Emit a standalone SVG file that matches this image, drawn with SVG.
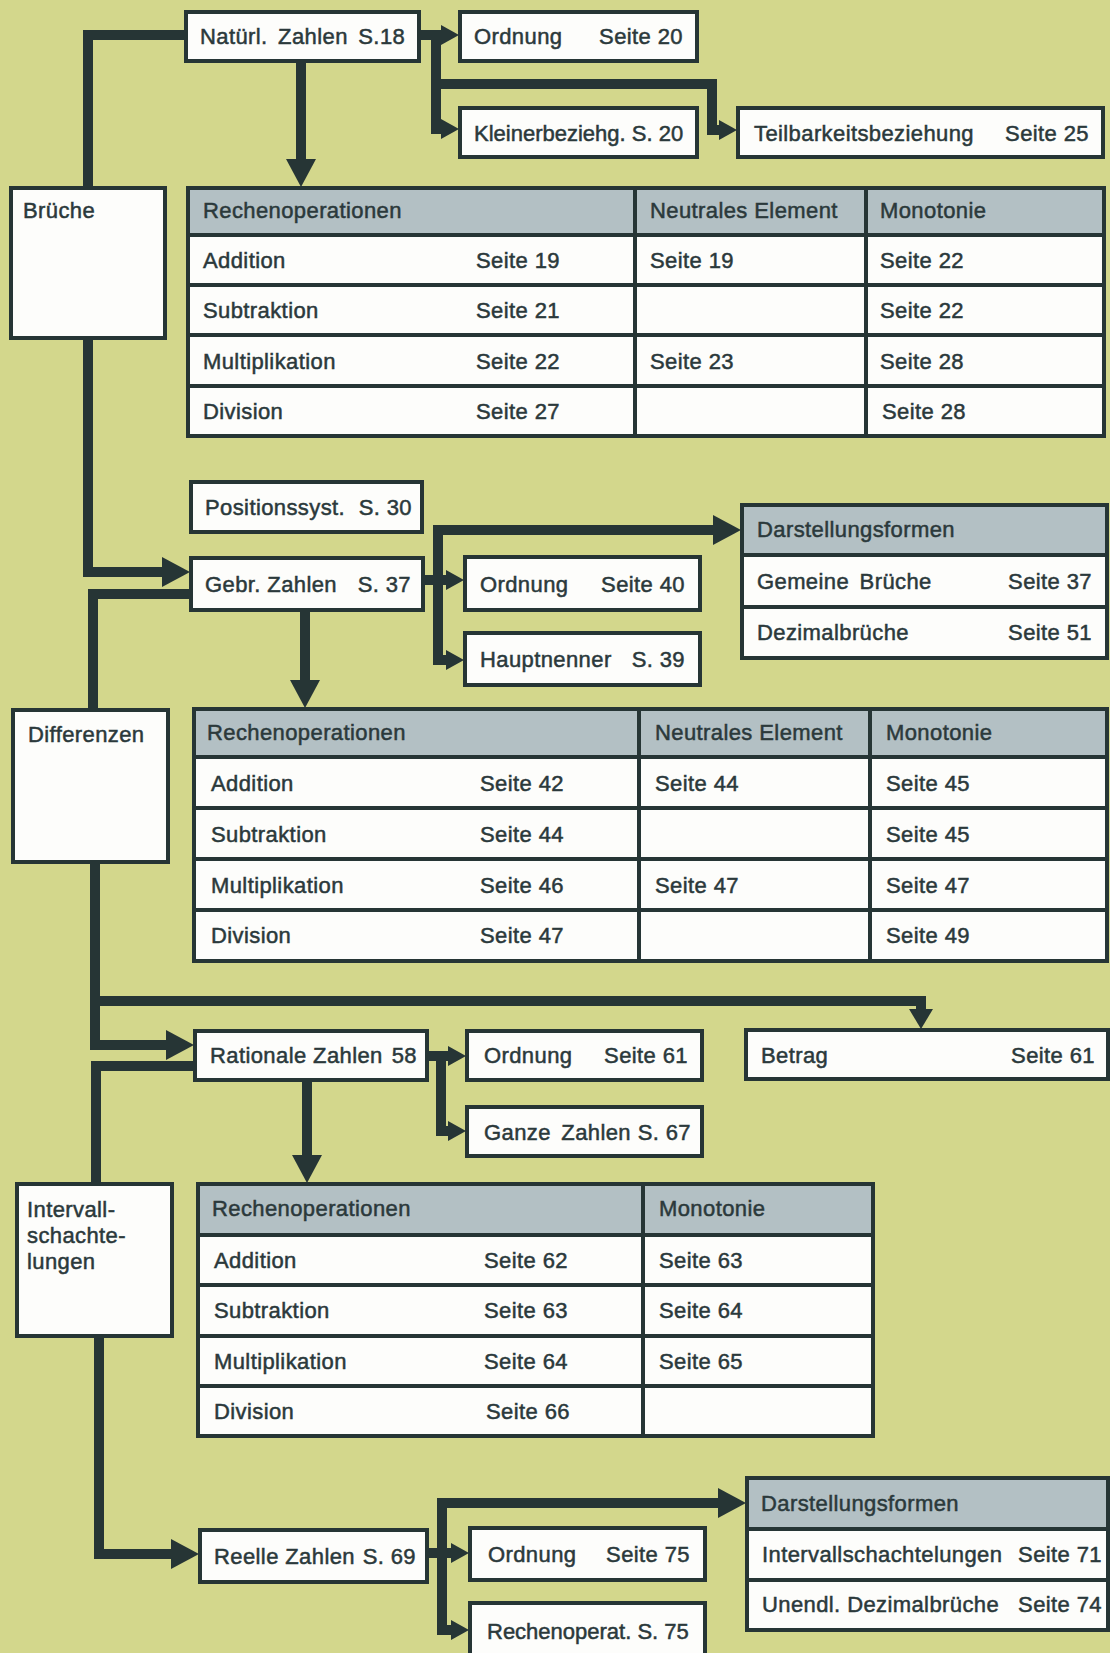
<svg xmlns="http://www.w3.org/2000/svg" width="1110" height="1653" viewBox="0 0 1110 1653">
<defs>
<style>
.bg{fill:#d3d78c}
.box{fill:#fdfdfb;stroke:#263535;stroke-width:4}
.frame{fill:none;stroke:#263535;stroke-width:4}
.hdr{fill:#b3c0c4}
.ln{stroke:#263535;stroke-width:4}
.con{fill:none;stroke:#263535;stroke-width:10;stroke-linejoin:miter}
.big{marker-end:url(#ab)}
.sm{marker-end:url(#as)}
.md{marker-end:url(#am)}
text{font-family:"Liberation Sans",Arial,sans-serif;font-size:22px;fill:#2b393b;stroke:#2b393b;stroke-width:0.5px;letter-spacing:0.4px}
.r{text-anchor:end}
.t{letter-spacing:0}
.w{word-spacing:4px}
</style>
<marker id="ab" markerUnits="userSpaceOnUse" viewBox="0 -16 28 32" refX="1" refY="0" markerWidth="28" markerHeight="32" orient="auto"><path d="M0,-15 L28,0 L0,15 Z" fill="#263535"/></marker>
<marker id="as" markerUnits="userSpaceOnUse" viewBox="0 -10 18 20" refX="1" refY="0" markerWidth="18" markerHeight="20" orient="auto"><path d="M0,-10 L18,0 L0,10 Z" fill="#263535"/></marker>
<marker id="am" markerUnits="userSpaceOnUse" viewBox="0 -12 20 24" refX="1" refY="0" markerWidth="20" markerHeight="24" orient="auto"><path d="M0,-12 L20,0 L0,12 Z" fill="#263535"/></marker>
</defs>
<rect class="bg" x="0" y="0" width="1110" height="1653"/>

<g id="connectors">
<path class="con" d="M186,35 H88 V187"/>
<path class="con big" d="M88,338 V572 H163"/>
<path class="con" d="M191,594 H93 V710"/>
<path class="con big" d="M95,862 V1045 H167"/>
<path class="con md" d="M90,1001 H921 V1010"/>
<path class="con" d="M195,1066 H96 V1184"/>
<path class="con big" d="M99,1336 V1554 H172"/>
<path class="con big" d="M301,61 V160"/>
<path class="con big" d="M305,610 V681"/>
<path class="con big" d="M307,1080 V1156"/>
<path class="con sm" d="M420,35 H442"/>
<path class="con sm" d="M436,35 V129 H442"/>
<path class="con sm" d="M436,84 H712 V130 H720"/>
<path class="con sm" d="M423,580 H447"/>
<path class="con sm" d="M438,530 V660 H447"/>
<path class="con big" d="M433,530 H714"/>
<path class="con sm" d="M427,1056 H449"/>
<path class="con sm" d="M441,1056 V1131 H449"/>
<path class="con sm" d="M427,1553 H452"/>
<path class="con sm" d="M442,1503 V1630 H452"/>
<path class="con big" d="M437,1503 H719"/>
</g>

<g id="natuerl"><rect class="box" x="186" y="12" width="233" height="49"/><text class="w" x="200" y="44">Natürl. Zahlen S.18</text></g>
<g id="ordnung1"><rect class="box" x="460" y="12" width="237" height="49"/><text x="474" y="44">Ordnung</text><text class="r" x="683" y="44">Seite 20</text></g>
<g id="kleiner"><rect class="box" x="460" y="108" width="237" height="49"/><text class="t" x="474" y="141">Kleinerbeziehg. S. 20</text></g>
<g id="teilbarkeit"><rect class="box" x="738" y="108" width="365" height="49"/><text x="754" y="141">Teilbarkeitsbeziehung</text><text class="r" x="1089" y="141">Seite 25</text></g>
<g id="brueche"><rect class="box" x="11" y="188" width="154" height="150"/><text x="23" y="218">Brüche</text></g>

<g id="table1">
<rect class="box" x="188" y="188" width="916" height="248"/>
<rect class="hdr" x="188" y="188" width="916" height="47"/>
<line class="ln" x1="188" y1="235" x2="1104" y2="235"/>
<line class="ln" x1="188" y1="285" x2="1104" y2="285"/>
<line class="ln" x1="188" y1="335" x2="1104" y2="335"/>
<line class="ln" x1="188" y1="386" x2="1104" y2="386"/>
<line class="ln" x1="635" y1="188" x2="635" y2="436"/>
<line class="ln" x1="866" y1="188" x2="866" y2="436"/>
<rect class="frame" x="188" y="188" width="916" height="248"/>
<text x="203" y="218">Rechenoperationen</text><text x="650" y="218">Neutrales Element</text><text x="880" y="218">Monotonie</text>
<text x="203" y="268">Addition</text><text x="476" y="268">Seite 19</text><text x="650" y="268">Seite 19</text><text x="880" y="268">Seite 22</text>
<text x="203" y="318">Subtraktion</text><text x="476" y="318">Seite 21</text><text x="880" y="318">Seite 22</text>
<text x="203" y="369">Multiplikation</text><text x="476" y="369">Seite 22</text><text x="650" y="369">Seite 23</text><text x="880" y="369">Seite 28</text>
<text x="203" y="419">Division</text><text x="476" y="419">Seite 27</text><text x="882" y="419">Seite 28</text>
</g>

<g id="positionssyst"><rect class="box" x="191" y="482" width="231" height="50"/><text x="205" y="515">Positionssyst.</text><text class="r" x="412" y="515">S. 30</text></g>
<g id="gebr"><rect class="box" x="191" y="558" width="232" height="52"/><text x="205" y="592">Gebr. Zahlen</text><text class="r" x="411" y="592">S. 37</text></g>
<g id="ordnung2"><rect class="box" x="465" y="557" width="235" height="53"/><text x="480" y="592">Ordnung</text><text class="r" x="685" y="592">Seite 40</text></g>
<g id="hauptnenner"><rect class="box" x="465" y="633" width="235" height="52"/><text x="480" y="667">Hauptnenner</text><text class="r" x="685" y="667">S. 39</text></g>

<g id="darstellung1">
<rect class="box" x="742" y="505" width="365" height="153"/>
<rect class="hdr" x="742" y="505" width="365" height="50"/>
<line class="ln" x1="742" y1="555" x2="1107" y2="555"/>
<line class="ln" x1="742" y1="607" x2="1107" y2="607"/>
<rect class="frame" x="742" y="505" width="365" height="153"/>
<text x="757" y="537">Darstellungsformen</text>
<text class="w" x="757" y="589">Gemeine Brüche</text><text class="r" x="1092" y="589">Seite 37</text>
<text x="757" y="640">Dezimalbrüche</text><text class="r" x="1092" y="640">Seite 51</text>
</g>

<g id="differenzen"><rect class="box" x="13" y="710" width="155" height="152"/><text x="28" y="742">Differenzen</text></g>

<g id="table2">
<rect class="box" x="194" y="709" width="913" height="252"/>
<rect class="hdr" x="194" y="709" width="913" height="48"/>
<line class="ln" x1="194" y1="757" x2="1107" y2="757"/>
<line class="ln" x1="194" y1="808" x2="1107" y2="808"/>
<line class="ln" x1="194" y1="859" x2="1107" y2="859"/>
<line class="ln" x1="194" y1="910" x2="1107" y2="910"/>
<line class="ln" x1="639" y1="709" x2="639" y2="961"/>
<line class="ln" x1="870" y1="709" x2="870" y2="961"/>
<rect class="frame" x="194" y="709" width="913" height="252"/>
<text x="207" y="740">Rechenoperationen</text><text x="655" y="740">Neutrales Element</text><text x="886" y="740">Monotonie</text>
<text x="211" y="791">Addition</text><text x="480" y="791">Seite 42</text><text x="655" y="791">Seite 44</text><text x="886" y="791">Seite 45</text>
<text x="211" y="842">Subtraktion</text><text x="480" y="842">Seite 44</text><text x="886" y="842">Seite 45</text>
<text x="211" y="893">Multiplikation</text><text x="480" y="893">Seite 46</text><text x="655" y="893">Seite 47</text><text x="886" y="893">Seite 47</text>
<text x="211" y="943">Division</text><text x="480" y="943">Seite 47</text><text x="886" y="943">Seite 49</text>
</g>

<g id="rationale"><rect class="box" x="195" y="1031" width="232" height="49"/><text x="210" y="1063">Rationale Zahlen</text><text class="r" x="417" y="1063">58</text></g>
<g id="ordnung3"><rect class="box" x="467" y="1031" width="235" height="49"/><text x="484" y="1063">Ordnung</text><text class="r" x="688" y="1063">Seite 61</text></g>
<g id="betrag"><rect class="box" x="746" y="1030" width="362" height="49"/><text x="761" y="1063">Betrag</text><text class="r" x="1095" y="1063">Seite 61</text></g>
<g id="ganze"><rect class="box" x="467" y="1107" width="235" height="49"/><text class="w" x="484" y="1140">Ganze Zahlen</text><text class="r" x="691" y="1140">S. 67</text></g>

<g id="intervall"><rect class="box" x="17" y="1184" width="155" height="152"/><text x="27" y="1217">Intervall-</text><text x="27" y="1243">schachte-</text><text x="27" y="1269">lungen</text></g>

<g id="table3">
<rect class="box" x="198" y="1184" width="675" height="252"/>
<rect class="hdr" x="198" y="1184" width="675" height="51"/>
<line class="ln" x1="198" y1="1235" x2="873" y2="1235"/>
<line class="ln" x1="198" y1="1285" x2="873" y2="1285"/>
<line class="ln" x1="198" y1="1336" x2="873" y2="1336"/>
<line class="ln" x1="198" y1="1386" x2="873" y2="1386"/>
<line class="ln" x1="643" y1="1184" x2="643" y2="1436"/>
<rect class="frame" x="198" y="1184" width="675" height="252"/>
<text x="212" y="1216">Rechenoperationen</text><text x="659" y="1216">Monotonie</text>
<text x="214" y="1268">Addition</text><text x="484" y="1268">Seite 62</text><text x="659" y="1268">Seite 63</text>
<text x="214" y="1318">Subtraktion</text><text x="484" y="1318">Seite 63</text><text x="659" y="1318">Seite 64</text>
<text x="214" y="1369">Multiplikation</text><text x="484" y="1369">Seite 64</text><text x="659" y="1369">Seite 65</text>
<text x="214" y="1419">Division</text><text x="486" y="1419">Seite 66</text>
</g>

<g id="reelle"><rect class="box" x="200" y="1530" width="227" height="52"/><text x="214" y="1564">Reelle Zahlen</text><text class="r" x="416" y="1564">S. 69</text></g>
<g id="ordnung4"><rect class="box" x="470" y="1528" width="235" height="52"/><text x="488" y="1562">Ordnung</text><text class="r" x="690" y="1562">Seite 75</text></g>
<g id="rechenoperat"><rect class="box" x="470" y="1603" width="235" height="56"/><text class="t" x="487" y="1639">Rechenoperat. S. 75</text></g>

<g id="darstellung2">
<rect class="box" x="747" y="1478" width="361" height="152"/>
<rect class="hdr" x="747" y="1478" width="361" height="51"/>
<line class="ln" x1="747" y1="1529" x2="1108" y2="1529"/>
<line class="ln" x1="747" y1="1580" x2="1108" y2="1580"/>
<rect class="frame" x="747" y="1478" width="361" height="152"/>
<text x="761" y="1511">Darstellungsformen</text>
<text x="762" y="1562">Intervallschachtelungen</text><text class="r" x="1102" y="1562">Seite 71</text>
<text x="762" y="1612">Unendl. Dezimalbrüche</text><text class="r" x="1102" y="1612">Seite 74</text>
</g>
</svg>
